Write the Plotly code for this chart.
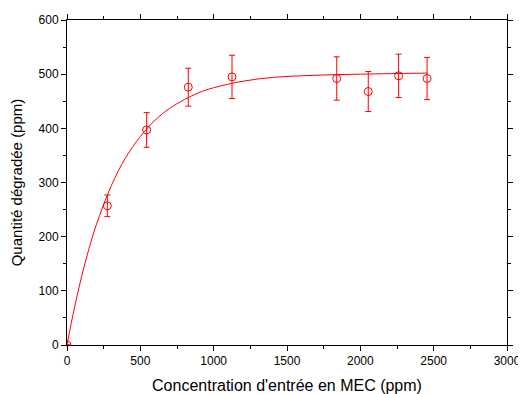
import plotly.graph_objects as go

# Measured points
conc = [0, 275, 543, 827, 1125, 1839, 2054, 2261, 2455]
qty = [0, 257, 397, 476, 495, 492, 468, 497, 492]
err = [0, 20, 32, 35, 40, 40, 37, 40, 39]

# Fitted curve
fit_x = [0, 50, 100, 150, 200, 300, 400, 500, 600, 700, 800, 900, 1000,
         1200, 1400, 1600, 1800, 2000, 2200, 2455]
fit_y = [0, 68, 127, 178, 222, 293, 346, 385, 415, 437, 453, 466, 475,
         487, 494, 497, 499, 500, 501, 502]

x_ticks = [0, 500, 1000, 1500, 2000, 2500, 3000]
y_ticks = [0, 100, 200, 300, 400, 500, 600]

RED = "#ff0000"
FONT = "Liberation Sans, Arial, sans-serif"

fig = go.Figure()
fig.add_trace(go.Scatter(
    x=fit_x, y=fit_y, mode="lines", line=dict(color=RED, width=1, shape="spline"),
    hoverinfo="skip", showlegend=False))
fig.add_trace(go.Scatter(
    x=conc, y=qty, mode="markers",
    marker=dict(symbol="circle-open", size=8, color=RED, line=dict(width=1, color=RED)),
    error_y=dict(type="data", array=err, visible=True, color=RED, thickness=1, width=3),
    showlegend=False))

axis_common = dict(
    showline=True, linecolor="black", linewidth=1, mirror="ticks",
    ticks="outside", ticklen=5, tickwidth=1, tickcolor="black",
    showgrid=False, zeroline=False, automargin=False,
    tickfont=dict(family=FONT, size=12, color="black"),
)

fig.update_xaxes(
    range=[0, 3000], tickvals=x_ticks, ticktext=[str(v) for v in x_ticks],
    minor=dict(ticks="outside", ticklen=3, tickcolor="black", dtick=250, tick0=0, showgrid=False),
    title=dict(text="Concentration d'entrée en MEC (ppm)", font=dict(family=FONT, size=16, color="black")),
    **axis_common)
fig.update_yaxes(
    range=[0, 600], tickvals=y_ticks, ticktext=[str(v) for v in y_ticks],
    minor=dict(ticks="outside", ticklen=3, tickcolor="black", dtick=50, tick0=0, showgrid=False),
    title=dict(text="Quantité dégradée (ppm)", font=dict(family=FONT, size=15, color="black")),
    **axis_common)

# The page body adds an 8px offset, so the figure is sized to fit the window.
fig.update_layout(
    width=518, height=386,
    margin=dict(l=59, r=19, t=12, b=49),
    paper_bgcolor="white", plot_bgcolor="white",
    font=dict(family=FONT, color="black"),
)

fig.write_html("out.html", config={"displayModeBar": False})
